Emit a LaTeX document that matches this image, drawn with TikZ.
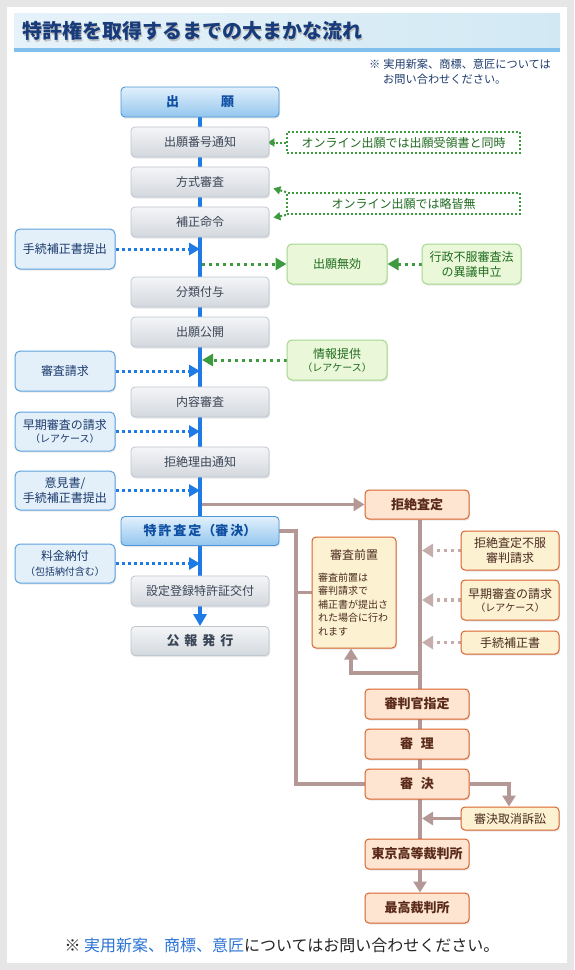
\documentclass[tikz,border=0pt]{standalone}
\usepackage{fontspec}
\setmainfont{Noto Sans CJK JP}
\usetikzlibrary{arrows.meta,shadows,calc}
\definecolor{pagebg}{HTML}{E6E6E6}
\definecolor{lineblue}{HTML}{1E7BE6}
\definecolor{greytop}{HTML}{F4F5F7}
\definecolor{greybot}{HTML}{D3D8DE}
\definecolor{greyborder}{HTML}{BEC6D0}
\definecolor{greytext}{HTML}{3A4556}
\definecolor{bluetop}{HTML}{E2F0FC}
\definecolor{bluebot}{HTML}{93C6EE}
\definecolor{blueborder}{HTML}{4F97DA}
\definecolor{bluetext}{HTML}{0E4FA3}
\definecolor{lbfill}{HTML}{E3F0FA}
\definecolor{lbborder}{HTML}{5DA2DF}
\definecolor{lbtext}{HTML}{1C3A6C}
\definecolor{gfill}{HTML}{EAF8D9}
\definecolor{gborder}{HTML}{A3D88C}
\definecolor{gtext}{HTML}{1E6B1E}
\definecolor{gline}{HTML}{3E9A3E}
\definecolor{ofill}{HTML}{FDE5D2}
\definecolor{oborder}{HTML}{D9622C}
\definecolor{otext}{HTML}{5A2A1A}
\definecolor{yfill}{HTML}{FCF2D1}
\definecolor{ytext}{HTML}{4A2A1F}
\definecolor{brownc}{HTML}{B49896}
\definecolor{brownlt}{HTML}{C4ADAB}
\definecolor{titletext}{HTML}{183C7B}
\definecolor{notetext}{HTML}{1D3B6E}
\definecolor{bluenote}{HTML}{2B73D6}
\definecolor{bannerL}{HTML}{E6F2FA}
\definecolor{bannerR}{HTML}{D2E9F3}
\definecolor{bannerline}{HTML}{80BFEE}
\pgfdeclarelayer{back}
\pgfdeclarelayer{lines}
\pgfsetlayers{back,lines,main}
\tikzset{
  base/.style={rounded corners=4pt, inner sep=0pt, align=center,
    drop shadow={shadow xshift=1pt, shadow yshift=-1.5pt, opacity=0.18}},
  greybox/.style={base, minimum width=138pt, minimum height=30pt, draw=greyborder,
    line width=0.8pt, top color=greytop, bottom color=greybot, text=greytext,
    font=\fontsize{12}{14}\selectfont},
  bluebox/.style={base, minimum width=158pt, minimum height=30pt, draw=blueborder,
    line width=0.9pt, top color=bluetop, bottom color=bluebot, text=bluetext,
    font=\bfseries\fontsize{13}{15}\selectfont},
  leftbox/.style={base, rounded corners=5pt, minimum width=100pt, minimum height=39pt,
    draw=lbborder, line width=1pt, fill=lbfill, text=lbtext, font=\fontsize{12}{15}\selectfont},
  greenbox/.style={base, rounded corners=5pt, minimum width=100pt, minimum height=40pt,
    draw=gborder, line width=1pt, fill=gfill, text=gtext, font=\fontsize{12}{15}\selectfont},
  gnote/.style={minimum width=233pt, minimum height=21pt, inner sep=0pt, draw=gline,
    line width=2pt, dash pattern=on 2pt off 2pt, fill=white, text=gtext,
    font=\fontsize{12}{14}\selectfont},
  obox/.style={base, minimum width=104pt, minimum height=30pt, draw=oborder, line width=1pt,
    fill=ofill, text=otext, font=\bfseries\fontsize{13}{15}\selectfont},
  ybox/.style={base, minimum width=98pt, minimum height=39pt, draw=oborder, line width=1pt,
    fill=yfill, text=ytext, font=\fontsize{12}{15}\selectfont},
  zbox/.style={base, align=left, draw=oborder, line width=1pt, fill=yfill, text=ytext,
    text width=72pt, inner xsep=6pt, inner ysep=0pt, minimum height=111pt},
  bluedots/.style={draw=lineblue, line width=3pt, dash pattern=on 3pt off 3pt,
    -{Triangle[length=11pt,width=12pt]}},
  greendots/.style={draw=gline, line width=3pt, dash pattern=on 3pt off 4pt,
    -{Triangle[length=11pt,width=12pt]}},
  greenthin/.style={draw=gline, line width=2pt, dash pattern=on 2pt off 2pt,
    -{Triangle[length=7pt,width=8pt]}},
  brownline/.style={draw=brownc, line width=3.5pt},
  brownarrow/.style={brownline, -{Triangle[length=11pt,width=13pt]}},
  browndots/.style={draw=brownlt, line width=3.5pt, dash pattern=on 3pt off 4pt,
    -{Triangle[length=11pt,width=13pt]}},
  small/.style={font=\fontsize{10}{12}\selectfont}
}
\begin{document}
\begin{tikzpicture}[x=1pt,y=-1pt]
\useasboundingbox (0,0) rectangle (574,970);
\begin{pgfonlayer}{back}
  \fill[pagebg] (0,0) rectangle (574,970);
  \fill[white] (7,7) rectangle (567,963);
  \shade[left color=bannerL, right color=bannerR] (14,13) rectangle (560,48);
  \fill[bannerline] (14,48) rectangle (560,52);
\end{pgfonlayer}

% title and notes
\node[anchor=west, inner sep=0pt, text=black!25, font=\bfseries\fontsize{20}{24}\selectfont] (tshadow) at (23.5,32.5) {特許権を取得するまでの大まかな流れ};
\node[anchor=west, inner sep=0pt, text=titletext, font=\bfseries\fontsize{20}{24}\selectfont] (title) at (22,31) {特許権を取得するまでの大まかな流れ};
\node[anchor=north west, align=left, inner sep=0pt, text=notetext, font=\fontsize{11.2}{15}\selectfont] (note) at (369,59) {※\hspace{3pt}実用新案、商標、意匠については\\\hspace*{14pt}お問い合わせください。};
\node[inner sep=0pt, text=black!85, font=\fontsize{16}{19}\selectfont] (foot) at (282,945) {※ \textcolor{bluenote}{実用新案、商標、意匠}についてはお問い合わせください。};

% coordinates
\coordinate (ml) at (200,0);
\coordinate (mlr) at (202,0);
\coordinate (vx) at (420,0);
\coordinate (vxr) at (422,0);
\coordinate (lx) at (296,0);
\coordinate (sx) at (509,0);
\coordinate (loopc) at (351,673);

% main column
\node[bluebox] (app) at (200,102) {出\hspace{42pt}願};
\node[greybox] (n1) at (200,142) {出願番号通知};
\node[greybox] (n2) at (200,182) {方式審査};
\node[greybox] (n3) at (200,222) {補正命令};
\node[greybox] (n4) at (200,292) {分類付与};
\node[greybox] (n5) at (200,332) {出願公開};
\node[greybox] (n6) at (200,402) {内容審査};
\node[greybox] (n7) at (200,462) {拒絶理由通知};
\node[bluebox, minimum height=29pt] (grant) at (200,531) {特\hspace{2pt}許\hspace{2pt}査\hspace{2pt}定\hspace{1pt}（審\hspace{2pt}決）};
\node[greybox] (n8) at (200,591) {設定登録特許証交付};
\node[greybox, minimum height=29pt, font=\bfseries\fontsize{13}{15}\selectfont] (pub) at (200,641) {公\hspace{5pt}報\hspace{5pt}発\hspace{5pt}行};

% left boxes
\node[leftbox, minimum height=40pt] (l1) at (65,249) {手続補正書提出};
\node[leftbox, minimum height=40pt] (l2) at (65,371) {審査請求};
\node[leftbox] (l3) at (65,431.5) {早期審査の請求\\[-2pt]{\fontsize{10}{12}\selectfont（レアケース）}};
\node[leftbox] (l4) at (65,490.5) {意見書/\\手続補正書提出};
\node[leftbox] (l5) at (65,563.5) {料金納付\\{\fontsize{10}{12}\selectfont（包括納付含む）}};

% green
\node[gnote] (o1) at (403.5,142.5) {オンライン出願では出願受領書と同時};
\node[gnote] (o2) at (403.5,203.5) {オンライン出願では略皆無};
\node[greenbox] (inv) at (337,264) {出願無効};
\node[greenbox, minimum width=99pt] (gy) at (471.5,264) {行政不服審査法\\の異議申立};
\node[greenbox] (info) at (337,360) {情報提供\\[-2pt]{\fontsize{10}{12}\selectfont（レアケース）}};

% orange
\node[obox, minimum height=29pt] (rej) at (417,504.5) {拒絶査定};
\node[ybox] (r1) at (510,550.5) {拒絶査定不服\\審判請求};
\node[ybox, minimum height=40pt] (r2) at (510,600) {早期審査の請求\\[-2pt]{\fontsize{10}{12}\selectfont（レアケース）}};
\node[ybox, minimum height=23pt] (r3) at (510,642.5) {手続補正書};
\node[zbox] (pre) at (354,592.5) {{\centering\fontsize{12}{14}\selectfont 審査前置\par}\vspace{8pt}{\raggedright\fontsize{10}{13.5}\selectfont 審査前置は\\審判請求で\\補正書が提出さ\\れた場合に行わ\\れます\par}};
\node[obox] (s1) at (417,704) {審判官指定};
\node[obox] (s2) at (417,744) {審\hspace{8pt}理};
\node[obox] (s3) at (417,784) {審\hspace{8pt}決};
\node[ybox, minimum height=23pt] (suit) at (510,818.5) {審決取消訴訟};
\node[obox] (s4) at (417,854) {東京高等裁判所};
\node[obox] (s5) at (417,908) {最高裁判所};

\begin{pgfonlayer}{lines}
  % main blue line
  \draw[draw=lineblue, line width=3.2pt, -{Triangle[length=12pt,width=13pt]}] (app.south) -- (pub.north);
  % blue dotted arrows
  \draw[bluedots] (l1.east) -- (l1.east -| ml);
  \draw[bluedots] (l2.east) -- (l2.east -| ml);
  \draw[bluedots] (l3.east) -- (l3.east -| ml);
  \draw[bluedots] (l4.east) -- (l4.east -| ml);
  \draw[bluedots] (l5.east) -- (l5.east -| ml);
  % green arrows
  \draw[greenthin, shorten >=-2pt] (o1.west) -- (o1.west -| n1.east);
  \draw[greenthin] (o2.north west) -- ([shift={(4,-9)}]n2.south east);
  \draw[greenthin] (o2.south west) -- ([shift={(4,11)}]n3.north east);
  \draw[greendots] (inv.west -| mlr) -- (inv.west);
  \draw[greendots] (gy.west) -- (inv.east);
  \draw[greendots] (info.west) -- (info.west -| mlr);
  % brown
  \draw[brownarrow] (rej.west -| mlr) -- (rej.west);
  \draw[brownline] (rej.south -| vx) -- (s4.north -| vx);
  \draw[brownarrow] (s4.south -| vx) -- (s5.north -| vx);
  \draw[browndots] (r1.west) -- (r1.west -| vxr);
  \draw[browndots] (r2.west) -- (r2.west -| vxr);
  \draw[browndots] (r3.west) -- (r3.west -| vxr);
  \draw[brownarrow] (vx |- loopc) -- (loopc) -- (loopc |- pre.south);
  \draw[brownline] (grant.east) -- (lx |- grant.east) -- (lx |- s3.west) -- (s3.west);
  \draw[brownline] (lx |- pre.west) -- (pre.west);
  \draw[brownarrow] (s3.east) -| (sx |- suit.north);
  \draw[brownarrow] (suit.west) -- (suit.west -| vxr);
\end{pgfonlayer}
\end{tikzpicture}
\end{document}
